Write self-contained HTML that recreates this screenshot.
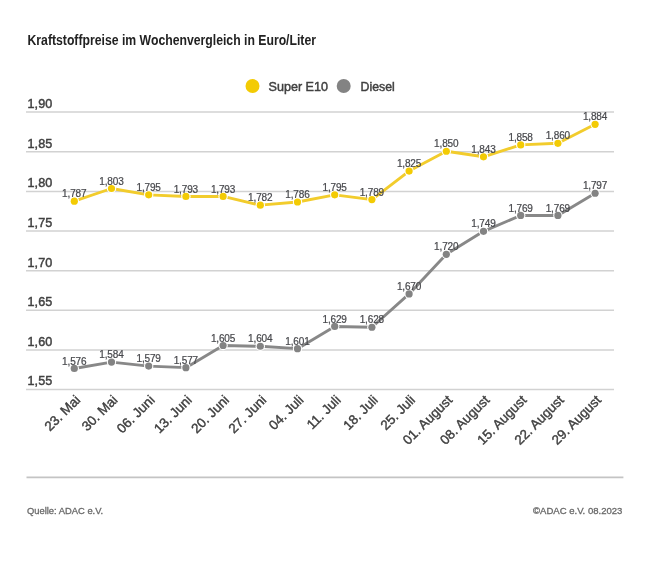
<!DOCTYPE html>
<html><head><meta charset="utf-8"><style>
html,body{margin:0;padding:0;background:#fff;width:650px;height:570px;overflow:hidden}
svg{display:block;will-change:transform}
text{font-family:"Liberation Sans",sans-serif}
.ti{font-size:14.3px;font-weight:bold;fill:#222}
.ax{font-size:12.8px;fill:#404040;stroke:#404040;stroke-width:0.45px}
.dl{font-size:10.0px;fill:#48494d;stroke:#48494d;stroke-width:0.22px}
.xl{font-size:13.4px;fill:#404040;stroke:#404040;stroke-width:0.4px;text-anchor:end}
.lg{font-size:12.8px;fill:#404040;stroke:#404040;stroke-width:0.45px}
.ft{font-size:9.3px;fill:#6a6a6a;stroke:#6a6a6a;stroke-width:0.3px}
</style></head><body>
<svg width="650" height="570" viewBox="0 0 650 570">
<line x1="26" y1="112.10" x2="614" y2="112.10" stroke="#d2d2d2" stroke-width="1.5"/>
<text x="27.6" y="108.00" class="ax" textLength="24.6" lengthAdjust="spacingAndGlyphs">1,90</text>
<line x1="26" y1="151.74" x2="614" y2="151.74" stroke="#d2d2d2" stroke-width="1.5"/>
<text x="27.6" y="147.64" class="ax" textLength="24.6" lengthAdjust="spacingAndGlyphs">1,85</text>
<line x1="26" y1="191.38" x2="614" y2="191.38" stroke="#d2d2d2" stroke-width="1.5"/>
<text x="27.6" y="187.28" class="ax" textLength="24.6" lengthAdjust="spacingAndGlyphs">1,80</text>
<line x1="26" y1="231.02" x2="614" y2="231.02" stroke="#d2d2d2" stroke-width="1.5"/>
<text x="27.6" y="226.92" class="ax" textLength="24.6" lengthAdjust="spacingAndGlyphs">1,75</text>
<line x1="26" y1="270.66" x2="614" y2="270.66" stroke="#d2d2d2" stroke-width="1.5"/>
<text x="27.6" y="266.56" class="ax" textLength="24.6" lengthAdjust="spacingAndGlyphs">1,70</text>
<line x1="26" y1="310.30" x2="614" y2="310.30" stroke="#d2d2d2" stroke-width="1.5"/>
<text x="27.6" y="306.20" class="ax" textLength="24.6" lengthAdjust="spacingAndGlyphs">1,65</text>
<line x1="26" y1="349.94" x2="614" y2="349.94" stroke="#d2d2d2" stroke-width="1.5"/>
<text x="27.6" y="345.84" class="ax" textLength="24.6" lengthAdjust="spacingAndGlyphs">1,60</text>
<line x1="26" y1="389.58" x2="614" y2="389.58" stroke="#d2d2d2" stroke-width="1.5"/>
<text x="27.6" y="385.48" class="ax" textLength="24.6" lengthAdjust="spacingAndGlyphs">1,55</text>
<polyline points="74.30,201.19 111.50,188.50 148.70,194.84 185.90,196.43 223.10,196.43 260.30,205.15 297.50,201.98 334.70,194.84 371.90,199.60 409.10,171.06 446.30,151.24 483.50,156.79 520.70,144.90 557.90,143.31 595.10,124.28" fill="none" stroke="#f2cc2c" stroke-width="2.9" stroke-linejoin="round"/>
<circle cx="74.30" cy="201.19" r="4.7" fill="#fff"/><circle cx="74.30" cy="201.19" r="3.6" fill="#f3cb04"/>
<circle cx="111.50" cy="188.50" r="4.7" fill="#fff"/><circle cx="111.50" cy="188.50" r="3.6" fill="#f3cb04"/>
<circle cx="148.70" cy="194.84" r="4.7" fill="#fff"/><circle cx="148.70" cy="194.84" r="3.6" fill="#f3cb04"/>
<circle cx="185.90" cy="196.43" r="4.7" fill="#fff"/><circle cx="185.90" cy="196.43" r="3.6" fill="#f3cb04"/>
<circle cx="223.10" cy="196.43" r="4.7" fill="#fff"/><circle cx="223.10" cy="196.43" r="3.6" fill="#f3cb04"/>
<circle cx="260.30" cy="205.15" r="4.7" fill="#fff"/><circle cx="260.30" cy="205.15" r="3.6" fill="#f3cb04"/>
<circle cx="297.50" cy="201.98" r="4.7" fill="#fff"/><circle cx="297.50" cy="201.98" r="3.6" fill="#f3cb04"/>
<circle cx="334.70" cy="194.84" r="4.7" fill="#fff"/><circle cx="334.70" cy="194.84" r="3.6" fill="#f3cb04"/>
<circle cx="371.90" cy="199.60" r="4.7" fill="#fff"/><circle cx="371.90" cy="199.60" r="3.6" fill="#f3cb04"/>
<circle cx="409.10" cy="171.06" r="4.7" fill="#fff"/><circle cx="409.10" cy="171.06" r="3.6" fill="#f3cb04"/>
<circle cx="446.30" cy="151.24" r="4.7" fill="#fff"/><circle cx="446.30" cy="151.24" r="3.6" fill="#f3cb04"/>
<circle cx="483.50" cy="156.79" r="4.7" fill="#fff"/><circle cx="483.50" cy="156.79" r="3.6" fill="#f3cb04"/>
<circle cx="520.70" cy="144.90" r="4.7" fill="#fff"/><circle cx="520.70" cy="144.90" r="3.6" fill="#f3cb04"/>
<circle cx="557.90" cy="143.31" r="4.7" fill="#fff"/><circle cx="557.90" cy="143.31" r="3.6" fill="#f3cb04"/>
<circle cx="595.10" cy="124.28" r="4.7" fill="#fff"/><circle cx="595.10" cy="124.28" r="3.6" fill="#f3cb04"/>
<polyline points="74.30,368.47 111.50,362.12 148.70,366.09 185.90,367.67 223.10,345.48 260.30,346.27 297.50,348.65 334.70,326.45 371.90,327.24 409.10,293.94 446.30,254.30 483.50,231.31 520.70,215.46 557.90,215.46 595.10,193.26" fill="none" stroke="#888888" stroke-width="2.9" stroke-linejoin="round"/>
<circle cx="74.30" cy="368.47" r="4.7" fill="#fff"/><circle cx="74.30" cy="368.47" r="3.6" fill="#838383"/>
<circle cx="111.50" cy="362.12" r="4.7" fill="#fff"/><circle cx="111.50" cy="362.12" r="3.6" fill="#838383"/>
<circle cx="148.70" cy="366.09" r="4.7" fill="#fff"/><circle cx="148.70" cy="366.09" r="3.6" fill="#838383"/>
<circle cx="185.90" cy="367.67" r="4.7" fill="#fff"/><circle cx="185.90" cy="367.67" r="3.6" fill="#838383"/>
<circle cx="223.10" cy="345.48" r="4.7" fill="#fff"/><circle cx="223.10" cy="345.48" r="3.6" fill="#838383"/>
<circle cx="260.30" cy="346.27" r="4.7" fill="#fff"/><circle cx="260.30" cy="346.27" r="3.6" fill="#838383"/>
<circle cx="297.50" cy="348.65" r="4.7" fill="#fff"/><circle cx="297.50" cy="348.65" r="3.6" fill="#838383"/>
<circle cx="334.70" cy="326.45" r="4.7" fill="#fff"/><circle cx="334.70" cy="326.45" r="3.6" fill="#838383"/>
<circle cx="371.90" cy="327.24" r="4.7" fill="#fff"/><circle cx="371.90" cy="327.24" r="3.6" fill="#838383"/>
<circle cx="409.10" cy="293.94" r="4.7" fill="#fff"/><circle cx="409.10" cy="293.94" r="3.6" fill="#838383"/>
<circle cx="446.30" cy="254.30" r="4.7" fill="#fff"/><circle cx="446.30" cy="254.30" r="3.6" fill="#838383"/>
<circle cx="483.50" cy="231.31" r="4.7" fill="#fff"/><circle cx="483.50" cy="231.31" r="3.6" fill="#838383"/>
<circle cx="520.70" cy="215.46" r="4.7" fill="#fff"/><circle cx="520.70" cy="215.46" r="3.6" fill="#838383"/>
<circle cx="557.90" cy="215.46" r="4.7" fill="#fff"/><circle cx="557.90" cy="215.46" r="3.6" fill="#838383"/>
<circle cx="595.10" cy="193.26" r="4.7" fill="#fff"/><circle cx="595.10" cy="193.26" r="3.6" fill="#838383"/>
<text x="62.10" y="197.29" class="dl" textLength="24.4" lengthAdjust="spacing">1,787</text>
<text x="99.30" y="184.60" class="dl" textLength="24.4" lengthAdjust="spacing">1,803</text>
<text x="136.50" y="190.94" class="dl" textLength="24.4" lengthAdjust="spacing">1,795</text>
<text x="173.70" y="192.53" class="dl" textLength="24.4" lengthAdjust="spacing">1,793</text>
<text x="210.90" y="192.53" class="dl" textLength="24.4" lengthAdjust="spacing">1,793</text>
<text x="248.10" y="201.25" class="dl" textLength="24.4" lengthAdjust="spacing">1,782</text>
<text x="285.30" y="198.08" class="dl" textLength="24.4" lengthAdjust="spacing">1,786</text>
<text x="322.50" y="190.94" class="dl" textLength="24.4" lengthAdjust="spacing">1,795</text>
<text x="359.70" y="195.70" class="dl" textLength="24.4" lengthAdjust="spacing">1,789</text>
<text x="396.90" y="167.16" class="dl" textLength="24.4" lengthAdjust="spacing">1,825</text>
<text x="434.10" y="147.34" class="dl" textLength="24.4" lengthAdjust="spacing">1,850</text>
<text x="471.30" y="152.89" class="dl" textLength="24.4" lengthAdjust="spacing">1,843</text>
<text x="508.50" y="141.00" class="dl" textLength="24.4" lengthAdjust="spacing">1,858</text>
<text x="545.70" y="139.41" class="dl" textLength="24.4" lengthAdjust="spacing">1,860</text>
<text x="582.90" y="120.38" class="dl" textLength="24.4" lengthAdjust="spacing">1,884</text>
<text x="62.10" y="364.57" class="dl" textLength="24.4" lengthAdjust="spacing">1,576</text>
<text x="99.30" y="358.22" class="dl" textLength="24.4" lengthAdjust="spacing">1,584</text>
<text x="136.50" y="362.19" class="dl" textLength="24.4" lengthAdjust="spacing">1,579</text>
<text x="173.70" y="363.77" class="dl" textLength="24.4" lengthAdjust="spacing">1,577</text>
<text x="210.90" y="341.58" class="dl" textLength="24.4" lengthAdjust="spacing">1,605</text>
<text x="248.10" y="342.37" class="dl" textLength="24.4" lengthAdjust="spacing">1,604</text>
<text x="285.30" y="344.75" class="dl" textLength="24.4" lengthAdjust="spacing">1,601</text>
<text x="322.50" y="322.55" class="dl" textLength="24.4" lengthAdjust="spacing">1,629</text>
<text x="359.70" y="323.34" class="dl" textLength="24.4" lengthAdjust="spacing">1,628</text>
<text x="396.90" y="290.04" class="dl" textLength="24.4" lengthAdjust="spacing">1,670</text>
<text x="434.10" y="250.40" class="dl" textLength="24.4" lengthAdjust="spacing">1,720</text>
<text x="471.30" y="227.41" class="dl" textLength="24.4" lengthAdjust="spacing">1,749</text>
<text x="508.50" y="211.56" class="dl" textLength="24.4" lengthAdjust="spacing">1,769</text>
<text x="545.70" y="211.56" class="dl" textLength="24.4" lengthAdjust="spacing">1,769</text>
<text x="582.90" y="189.36" class="dl" textLength="24.4" lengthAdjust="spacing">1,797</text>
<text x="81.10" y="400.80" class="xl" transform="rotate(-45 81.10 400.80)">23. Mai</text>
<text x="118.30" y="400.80" class="xl" transform="rotate(-45 118.30 400.80)">30. Mai</text>
<text x="155.50" y="400.80" class="xl" transform="rotate(-45 155.50 400.80)">06. Juni</text>
<text x="192.70" y="400.80" class="xl" transform="rotate(-45 192.70 400.80)">13. Juni</text>
<text x="229.90" y="400.80" class="xl" transform="rotate(-45 229.90 400.80)">20. Juni</text>
<text x="267.10" y="400.80" class="xl" transform="rotate(-45 267.10 400.80)">27. Juni</text>
<text x="304.30" y="400.80" class="xl" transform="rotate(-45 304.30 400.80)">04. Juli</text>
<text x="341.50" y="400.80" class="xl" transform="rotate(-45 341.50 400.80)">11. Juli</text>
<text x="378.70" y="400.80" class="xl" transform="rotate(-45 378.70 400.80)">18. Juli</text>
<text x="415.90" y="400.80" class="xl" transform="rotate(-45 415.90 400.80)">25. Juli</text>
<text x="453.10" y="400.80" class="xl" transform="rotate(-45 453.10 400.80)">01. August</text>
<text x="490.30" y="400.80" class="xl" transform="rotate(-45 490.30 400.80)">08. August</text>
<text x="527.50" y="400.80" class="xl" transform="rotate(-45 527.50 400.80)">15. August</text>
<text x="564.70" y="400.80" class="xl" transform="rotate(-45 564.70 400.80)">22. August</text>
<text x="601.90" y="400.80" class="xl" transform="rotate(-45 601.90 400.80)">29. August</text>
<circle cx="252.5" cy="86" r="7" fill="#f3cb04"/>
<text x="268.5" y="90.6" class="lg" textLength="59.5" lengthAdjust="spacingAndGlyphs">Super E10</text>
<circle cx="343.7" cy="86" r="7" fill="#838383"/>
<text x="360.5" y="90.6" class="lg" textLength="34.3" lengthAdjust="spacingAndGlyphs">Diesel</text>
<text x="27.5" y="44.7" class="ti" textLength="288.5" lengthAdjust="spacingAndGlyphs">Kraftstoffpreise im Wochenvergleich in Euro/Liter</text>
<line x1="26.5" y1="477.4" x2="623.4" y2="477.4" stroke="#c4c4c4" stroke-width="1.6"/>
<text x="27" y="513.9" class="ft" textLength="76.2" lengthAdjust="spacingAndGlyphs">Quelle: ADAC e.V.</text>
<text x="533" y="513.9" class="ft" textLength="89.4" lengthAdjust="spacingAndGlyphs">©ADAC e.V. 08.2023</text>
</svg>
</body></html>
